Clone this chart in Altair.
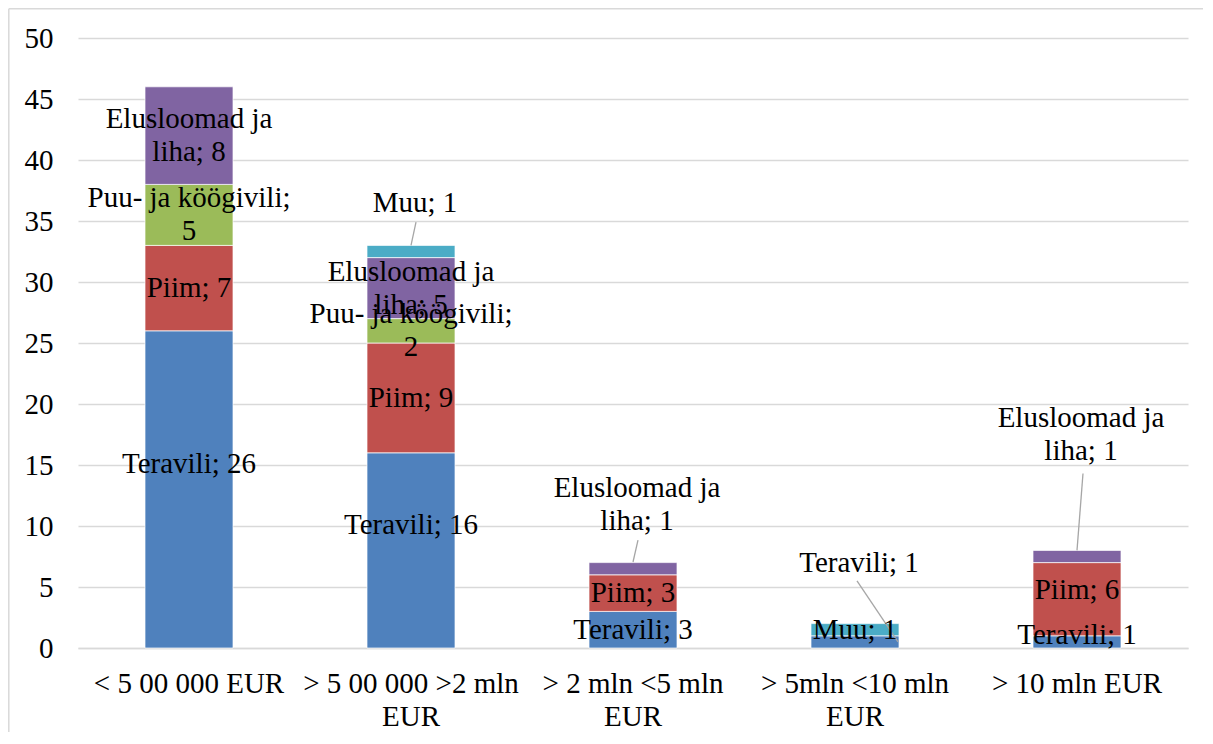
import textwrap
import altair as alt
import pandas as pd

categories = ["< 5 00 000 EUR", "> 5 00 000 >2 mln EUR", "> 2 mln <5 mln EUR",
              "> 5mln <10 mln EUR", "> 10 mln EUR"]
series = ["Teravili", "Piim", "Puu- ja köögivili", "Elusloomad ja liha", "Muu"]
colors = ["#4F81BD", "#C0504D", "#9BBB59", "#8064A2", "#4BACC6"]

teravili = [26, 16, 3, 1, 1]
piim = [7, 9, 3, 0, 6]
puu_ja_koogivili = [5, 2, 0, 0, 0]
elusloomad_ja_liha = [8, 5, 1, 0, 1]
muu = [0, 1, 0, 1, 0]
y_ticks = list(range(0, 51, 5))

# label placement (data units) for labels moved away from the segment centre
label_nudge = {(0, "Teravili"): 2.1, (1, "Teravili"): 2.1,
               (4, "Teravili"): 0.55, (4, "Piim"): 0.75}
outside_label_y = {(1, "Muu"): 36.5, (2, "Elusloomad ja liha"): 11.8,
                   (3, "Teravili"): 6.97, (4, "Elusloomad ja liha"): 17.5}
# leader lines: label-end y, bar-end y, x offset at label, x offset at bar (px)
leaders = {(1, "Muu"): (34.9, 33.0, 5, 0),
           (2, "Elusloomad ja liha"): (8.85, 7.05, 5, 0),
           (3, "Teravili"): (5.5, 0.5, 2, 43),
           (4, "Elusloomad ja liha"): (14.3, 8.0, 6, 0)}

values = [teravili, piim, puu_ja_koogivili, elusloomad_ja_liha, muu]

rows = []
for ci, cat in enumerate(categories):
    base = 0
    for si, s in enumerate(series):
        v = values[si][ci]
        if v == 0:
            continue
        mid = base + v / 2
        key = (ci, s)
        outside = key in outside_label_y
        ly = outside_label_y[key] if outside else mid + label_nudge.get(key, 0)
        txt = f"{s}; {v}"
        lines = textwrap.wrap(txt, 18, break_on_hyphens=False)
        rows.append({"cat": cat, "series": s, "order": si, "value": v,
                     "ly": ly, "label": "\n".join(lines), "outside": outside,
                     "nlines": len(lines)})
        base += v
df = pd.DataFrame(rows)

FONT = "Liberation Serif"
GRID = "#D9D9D9"
LH = 33
PAD_L, PAD_T, PAD_R, PAD_B = 70, 30, 15, 84
W, H = 1110, 610

x_enc = alt.X("cat:N", sort=categories, title=None,
              scale=alt.Scale(paddingInner=0.0, paddingOuter=0.0),
              axis=alt.Axis(labelAngle=0, ticks=False, domainColor=GRID,
                            domainWidth=1.3, labelFont=FONT, labelFontSize=29,
                            labelColor="black", labelPadding=21,
                            labelLineHeight=LH, labelLimit=400,
                            labelExpr="length(datum.label) > 14 ? [slice(datum.label, 0, -4), 'EUR'] : datum.label"))
y_scale = alt.Scale(domain=[0, 50], nice=False)

bars = alt.Chart(df).mark_bar(size=88, stroke="white", strokeWidth=0.7).encode(
    x=x_enc,
    y=alt.Y("value:Q", stack="zero", scale=y_scale, title=None,
            axis=alt.Axis(values=y_ticks, ticks=False, domain=False,
                          gridColor=GRID, gridWidth=1.3, labelFont=FONT,
                          labelFontSize=29, labelColor="black",
                          labelPadding=25)),
    color=alt.Color("series:N", sort=series,
                    scale=alt.Scale(domain=series, range=colors), legend=None),
    order=alt.Order("order:Q"),
)


def text_layer(sub, dx):
    layers = []
    for n in sorted(sub["nlines"].unique()):
        part = sub[sub["nlines"] == n]
        layers.append(
            alt.Chart(part).mark_text(
                font=FONT, fontSize=29, color="black", baseline="middle",
                align="center", lineBreak="\n", lineHeight=LH, dx=dx,
                dy=-(n - 1) * LH / 2).encode(
                x=alt.X("cat:N", sort=categories),
                y=alt.Y("ly:Q", scale=y_scale),
                text="label:N",
            )
        )
    return layers


inside_layers = text_layer(df[~df["outside"]], 0)
outside_layers = text_layer(df[df["outside"]], 4)

leader_layers = []
for (ci, s), (y_a, y_b, xo_a, xo_b) in leaders.items():
    d = pd.DataFrame({"cat": [categories[ci]], "ya": [y_a], "yb": [y_b]})
    leader_layers.append(
        alt.Chart(d).mark_rule(color="#A6A6A6", strokeWidth=1.3,
                               xOffset=xo_a, x2Offset=xo_b).encode(
            x=alt.X("cat:N", sort=categories),
            x2="cat",
            y=alt.Y("ya:Q", scale=y_scale),
            y2="yb",
        )
    )

# outer chart border (top and left edges fall inside the window)
one = pd.DataFrame({"a": [0]})
frame_top = alt.Chart(one).mark_rule(stroke=GRID, strokeWidth=1.5).encode(
    x=alt.value(-PAD_L + 0.8), x2=alt.value(W + PAD_R), y=alt.value(-PAD_T + 0.8))
frame_left = alt.Chart(one).mark_rule(stroke=GRID, strokeWidth=1.5).encode(
    x=alt.value(-PAD_L + 0.8), y=alt.value(-PAD_T + 0.8), y2=alt.value(H + PAD_B))

chart = alt.layer(frame_top, frame_left, bars, *leader_layers, *inside_layers,
                  *outside_layers).properties(
    width=W, height=H,
    autosize=alt.AutoSizeParams(type="none"),
    padding={"left": PAD_L, "top": PAD_T, "right": PAD_R, "bottom": PAD_B},
    background="white",
).configure_view(stroke=None)

chart.save("out.html", embed_options={"renderer": "svg", "actions": False})
